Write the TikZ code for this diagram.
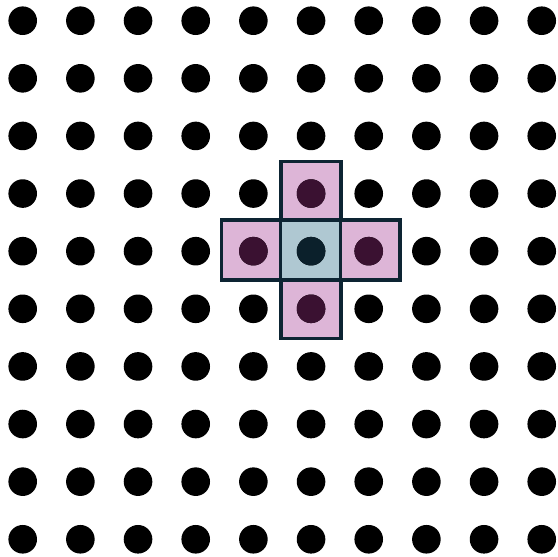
\documentclass[tikz,border=0pt]{standalone}
\definecolor{gridblack}{HTML}{000000}
\definecolor{cellpink}{HTML}{DDB5D7}
\definecolor{cellblue}{HTML}{AFC8D2}
\definecolor{dotpink}{HTML}{3A1131}
\definecolor{dotblue}{HTML}{0B202B}
\definecolor{edgenavy}{HTML}{0D2433}
\tikzset{
  griddot/.style={circle, fill=gridblack, inner sep=0pt, minimum size=28.6*0.75pt},
  cellbox/.style={rectangle, draw=edgenavy, line width=3.6*0.75pt, inner sep=0pt, minimum size=60*0.75pt},
}
\begin{document}
\begin{tikzpicture}[x=0.75pt,y=-0.75pt]
\useasboundingbox (0,0) rectangle (558,557);
\fill[white] (0,0) rectangle (558,557);
% cells
\node[cellbox, fill=cellpink] (up) at (311,191.5) {};
\node[cellbox, fill=cellpink] (down) at (311,308.6) {};
\node[cellbox, fill=cellpink] (left) at (251.5,250) {};
\node[cellbox, fill=cellpink] (right) at (370,250) {};
\node[cellbox, fill=cellblue] (center) at (310.5,250) {};
% dots
\foreach \i in {0,...,9}{
  \foreach \j in {0,...,9}{
    \pgfmathsetmacro{\xx}{22.7+57.67*\i}
    \pgfmathsetmacro{\yy}{20.7+57.62*\j}
    \node[griddot] (d\i-\j) at (\xx,\yy) {};
  }
}
\node[griddot, fill=dotpink] at (d5-3) {};
\node[griddot, fill=dotpink] at (d5-5) {};
\node[griddot, fill=dotpink] at (d4-4) {};
\node[griddot, fill=dotpink] at (d6-4) {};
\node[griddot, fill=dotblue] at (d5-4) {};
\end{tikzpicture}
\end{document}
